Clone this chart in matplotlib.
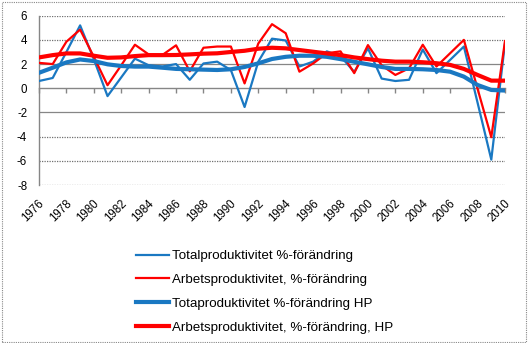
import matplotlib
matplotlib.use("Agg")
import matplotlib.pyplot as plt
from matplotlib.patches import Rectangle
from matplotlib.transforms import blended_transform_factory

plt.rcParams['font.family'] = ['Liberation Sans', 'DejaVu Sans']

years = list(range(1976, 2011))
total = [0.6, 0.85, 3.0, 5.2, 2.4, -0.65, 0.9, 2.45, 1.9, 1.8,
         2.0, 0.7, 2.05, 2.2, 1.5, -1.55, 2.2, 4.1, 3.95, 1.8,
         2.2, 3.05, 2.65, 1.35, 3.3, 0.8, 0.6, 0.7, 3.2, 1.25,
         2.35, 3.45, -1.2, -5.9, 3.75]
arbets = [2.1, 2.0, 3.85, 4.85, 2.6, 0.25, 1.9, 3.6, 2.8, 2.75,
          3.55, 1.4, 3.35, 3.45, 3.45, 0.4, 3.7, 5.3, 4.55, 1.37,
          2.05, 2.9, 3.05, 1.25, 3.57, 1.9, 1.1, 1.65, 3.6, 1.8,
          2.9, 4.0, -0.05, -4.05, 3.9]
total_hp = [1.28, 1.7, 2.14, 2.38, 2.25, 1.98, 1.84, 1.79, 1.79, 1.7,
            1.6, 1.57, 1.54, 1.51, 1.57, 1.76, 2.06, 2.42, 2.6, 2.69,
            2.69, 2.6, 2.41, 2.19, 1.98, 1.76, 1.6, 1.6, 1.57, 1.51,
            1.37, 0.96, 0.27, -0.14, -0.19]
arbets_hp = [2.55, 2.74, 2.88, 2.88, 2.69, 2.52, 2.55, 2.66, 2.74, 2.74,
             2.75, 2.8, 2.86, 2.89, 3.0, 3.1, 3.27, 3.35, 3.3, 3.16,
             3.02, 2.88, 2.74, 2.55, 2.41, 2.28, 2.2, 2.2, 2.15, 2.07,
             1.93, 1.6, 1.1, 0.63, 0.63]

labels = ["Totalproduktivitet %-förändring",
          "Arbetsproduktivitet, %-förändring",
          "Totaproduktivitet %-förändring HP",
          "Arbetsproduktivitet, %-förändring, HP"]
x_ticks = list(range(1976, 2011, 2))
y_ticks = [6, 4, 2, 0, -2, -4, -6, -8]

BLUE = '#1A78C2'
RED = '#FF0000'
GRAY = '#868686'
FS = 8.3
LFS = 9.65

W, H = 532, 343
fig = plt.figure(figsize=(W / 100, H / 100), dpi=100)
ax = fig.add_axes([39 / W, 1 - 185 / H, (505 - 39) / W, (185 - 15.7) / H])

# gridlines
for v in y_ticks:
    if v == 0:
        continue
    if v in (2, -2):
        ax.axhline(v, color=GRAY, lw=0.9, zorder=0)
    else:
        ax.axhline(v, color='#707070', lw=0.9, ls=(0, (1, 1)), zorder=0)

ax.plot(years, total, color=BLUE, lw=1.6, label=labels[0], zorder=3)
ax.plot(years, arbets, color=RED, lw=1.6, label=labels[1], zorder=3)
ax.plot(years, total_hp, color=BLUE, lw=3.0, label=labels[2], zorder=4)
ax.plot(years, arbets_hp, color=RED, lw=3.0, label=labels[3], zorder=4)

ax.set_xlim(1976, 2010)
ax.set_ylim(-8, 6)

for s in ['top', 'right']:
    ax.spines[s].set_visible(False)
ax.spines['left'].set_color(GRAY)
ax.spines['left'].set_linewidth(1.0)
ax.spines['bottom'].set_position(('data', 0))
ax.spines['bottom'].set_color(GRAY)
ax.spines['bottom'].set_linewidth(1.0)

ax.set_yticks(y_ticks)
ax.set_yticklabels([str(v) for v in y_ticks])
ax.tick_params(axis='y', length=0, pad=8.5, labelsize=FS, labelcolor='black')
ax.set_xticks(x_ticks)
ax.set_xticklabels([])
ax.tick_params(axis='x', length=3.5, width=1.0, color=GRAY, direction='out')

trans = blended_transform_factory(ax.transData, ax.transAxes)
for yr in x_ticks:
    ax.text(yr - 0.05, -0.075, str(yr), rotation=45, ha='right', va='top',
            rotation_mode='anchor', fontsize=FS, transform=trans, color='black')

leg = fig.legend(loc='upper left', bbox_to_anchor=(135.8 / W, 1 - 250 / H),
                 frameon=False, fontsize=LFS, handlelength=2.5,
                 handletextpad=0.2, labelspacing=0.85, borderpad=0,
                 borderaxespad=0)

fig.patches.append(Rectangle((1.5 / W, 1.5 / H), (525.5 - 1.5) / W, (341 - 1.5) / H,
                             transform=fig.transFigure, fill=False,
                             edgecolor='#888888', lw=0.8, ls=(0, (1, 1))))

fig.savefig('out.png', dpi=100)
